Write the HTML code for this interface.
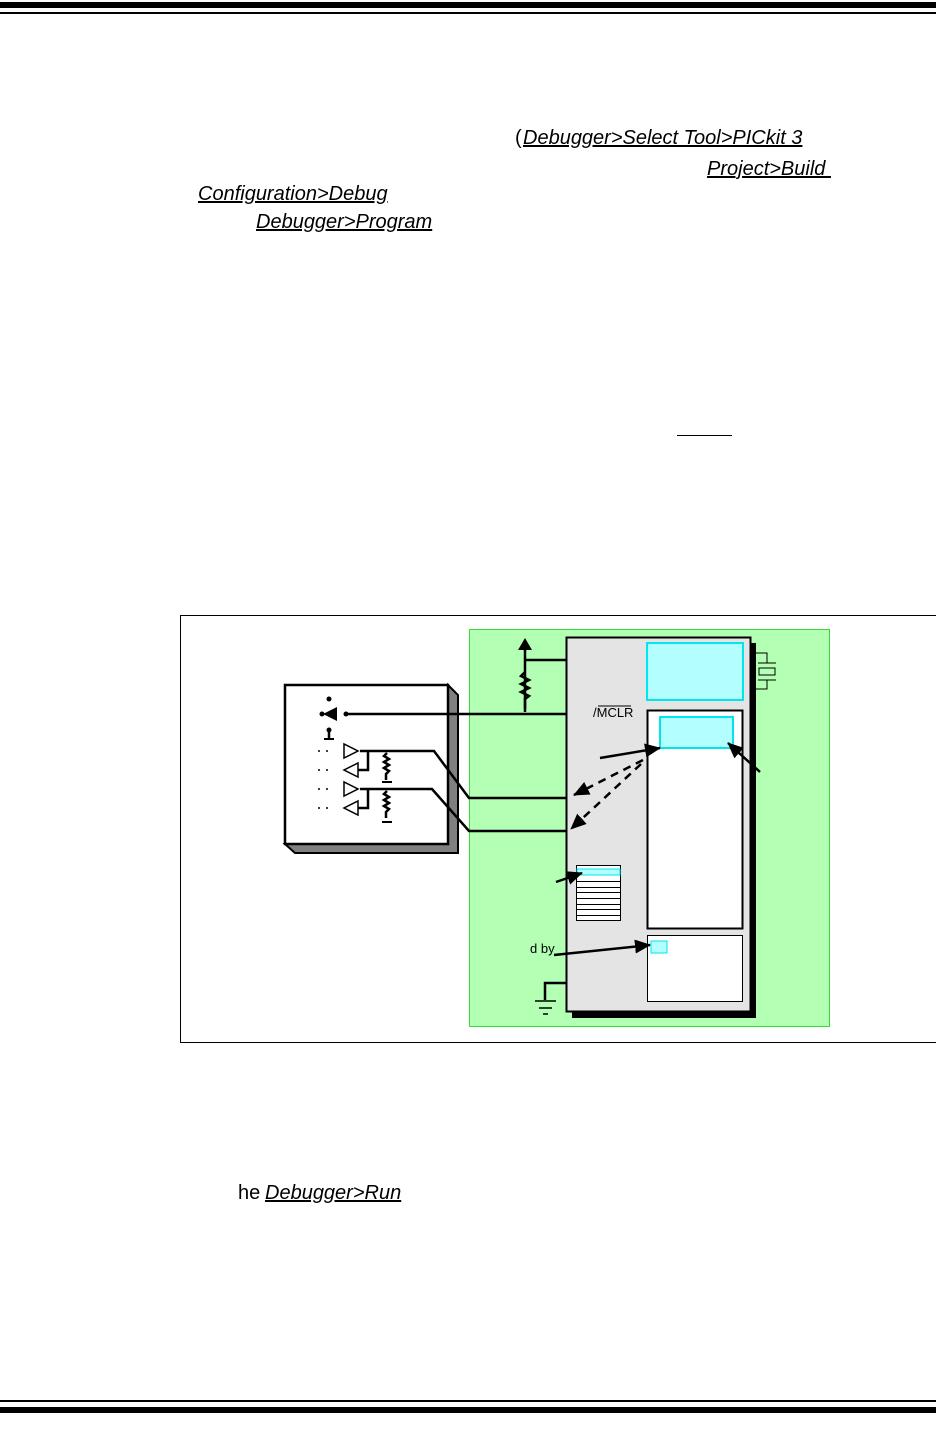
<!DOCTYPE html>
<html><head><meta charset="utf-8"><style>
html,body{margin:0;padding:0;background:#fff;}
body{width:936px;height:1429px;position:relative;overflow:hidden;font-family:"Liberation Sans",sans-serif;}
.t{position:absolute;font-size:20px;font-style:italic;text-decoration:underline;white-space:nowrap;line-height:22px;}
.n{position:absolute;font-size:20px;white-space:nowrap;line-height:22px;}
</style></head><body>
<div style="position:absolute;left:0;top:2px;width:936px;height:6px;background:#000"></div>
<div style="position:absolute;left:0;top:12px;width:936px;height:2px;background:#000"></div>
<div style="position:absolute;left:0;top:1400px;width:936px;height:2px;background:#000"></div>
<div style="position:absolute;left:0;top:1407px;width:936px;height:6px;background:#000"></div>

<div class="n" style="left:515px;top:127px;">(</div>
<div class="t" style="left:523px;top:127px;">Debugger&gt;Select Tool&gt;PICkit 3</div>
<div class="t" style="left:707px;top:158px;">Project&gt;Build&nbsp;</div>
<div class="t" style="left:198px;top:183px;">Configuration&gt;Debug</div>
<div class="t" style="left:256px;top:211px;">Debugger&gt;Program</div>
<div style="position:absolute;left:677px;top:435px;width:55px;height:1px;background:#000"></div>
<div class="n" style="left:238px;top:1182px;">he</div>
<div class="t" style="left:265px;top:1182px;">Debugger&gt;Run</div>

<svg style="position:absolute;left:0;top:0" width="936" height="1429">
<defs>
<marker id="b" markerWidth="16" markerHeight="14" refX="15" refY="7" orient="auto" markerUnits="userSpaceOnUse"><path d="M0,0L16,7L0,14z" fill="#000"/></marker></defs>
<rect x="180.5" y="615.5" width="756" height="427" fill="#fff" stroke="#000"/>
<rect x="469.5" y="629.5" width="360" height="397" fill="#b3ffb3" stroke="#33dd33"/>
<polygon points="448,685 458,695 458,853 295,853 285,844 448,844" fill="#808080" stroke="#000" stroke-width="2"/>
<rect x="285" y="685" width="163" height="159" fill="#fff" stroke="#000" stroke-width="2.5"/>
<rect x="572" y="643" width="184" height="375" fill="#000"/>
<rect x="566.5" y="637.5" width="184" height="374" fill="#e4e4e4" stroke="#000" stroke-width="2"/>
<rect x="647" y="643" width="96" height="57" fill="#b3ffff" stroke="#00e5ee" stroke-width="2"/>
<rect x="647.5" y="710.5" width="95" height="218" fill="#fff" stroke="#000" stroke-width="2"/>
<rect x="660" y="717" width="73" height="31" fill="#b3ffff" stroke="#00e5ee" stroke-width="2"/>
<rect x="647.5" y="935.5" width="95" height="66" fill="#fff" stroke="#000"/>
<rect x="651" y="941" width="16" height="12" fill="#b3ffff" stroke="#00e5ee"/>
<rect x="576.5" y="865.5" width="44" height="55" fill="#fff" stroke="#000"/>
<rect x="577" y="869" width="43" height="6" fill="#b3ffff" stroke="#00e5ee"/>
<g stroke="#000" stroke-width="1"><line x1="577" y1="881.5" x2="620" y2="881.5"/><line x1="577" y1="887.5" x2="620" y2="887.5"/><line x1="577" y1="892.5" x2="620" y2="892.5"/><line x1="577" y1="898.5" x2="620" y2="898.5"/><line x1="577" y1="904.5" x2="620" y2="904.5"/><line x1="577" y1="909.5" x2="620" y2="909.5"/><line x1="577" y1="915.5" x2="620" y2="915.5"/></g>
<text x="593" y="717" font-size="13" font-family="Liberation Sans">/MCLR</text>
<line x1="598" y1="706" x2="631" y2="706" stroke="#000"/>
<text x="530" y="953" font-size="13" font-family="Liberation Sans">d by</text>
<g stroke="#000" stroke-width="1" fill="none"><path d="M756,653H767V663M758,663H776M758,680H776M767,680V689H756"/><rect x="759" y="668" width="16" height="7"/></g>
<g stroke="#000" stroke-width="2.5" fill="none">
<path d="M525,712V650"/><path d="M525,660H566"/>
<path d="M525,672l-4,4l8,4l-8,4l8,4l-8,4l8,4l-4,3v10"/>
<path d="M346,714H566"/>
<path d="M360,751H434L469,798H566"/><path d="M360,789H432L469,831H566"/>
<path d="M368,751V770H357"/><path d="M368,789V808H357"/>
<path d="M387,753l-3,3l5,3l-5,3l5,3l-5,3l5,3l-3,3v6"/>
<path d="M387,791l-3,3l5,3l-5,3l5,3l-5,3l5,3l-3,3v6"/>
<path d="M329,731v8"/>
<path d="M545,1000V983H566"/>
</g>
<path d="M525,638l-7,12h14z" fill="#000"/>
<path d="M323,714l14,-7v14z" fill="#000"/>
<circle cx="329" cy="699" r="2.5"/><circle cx="322" cy="714" r="2.5"/><circle cx="346" cy="714" r="2.5"/><circle cx="329" cy="730" r="2.5"/>
<g stroke="#000" stroke-width="2"><line x1="324" y1="739" x2="334" y2="739"/><line x1="382" y1="782" x2="392" y2="782"/><line x1="382" y1="822" x2="392" y2="822"/></g>
<g stroke="#000" stroke-width="1.5"><line x1="535" y1="1001" x2="556" y2="1001"/><line x1="539" y1="1008" x2="552" y2="1008"/><line x1="543" y1="1014" x2="548" y2="1014"/></g>
<g fill="#fff" stroke="#000" stroke-width="1.5"><path d="M344,744v14l14,-7z"/><path d="M358,763v14l-14,-7z"/><path d="M344,782v14l14,-7z"/><path d="M358,801v14l-14,-7z"/></g>
<g stroke="#000" stroke-width="1.5" stroke-dasharray="2,6"><line x1="318" y1="751" x2="334" y2="751"/><line x1="318" y1="770" x2="334" y2="770"/><line x1="318" y1="789" x2="334" y2="789"/><line x1="318" y1="808" x2="334" y2="808"/></g>
<g stroke="#000" stroke-width="2.5" stroke-dasharray="8,6" fill="none"><line x1="643" y1="760" x2="574" y2="795" marker-end="url(#b)"/><line x1="641" y1="764" x2="571" y2="829" marker-end="url(#b)"/></g>
<line x1="600" y1="758" x2="660" y2="748" stroke="#000" stroke-width="2.5" marker-end="url(#b)"/>
<g stroke="#000" stroke-width="2.5"><line x1="760" y1="772" x2="728" y2="743" marker-end="url(#b)"/><line x1="556" y1="882" x2="582" y2="873" marker-end="url(#b)"/><line x1="554" y1="955" x2="650" y2="945" marker-end="url(#b)"/></g>
</svg>
</body></html>
